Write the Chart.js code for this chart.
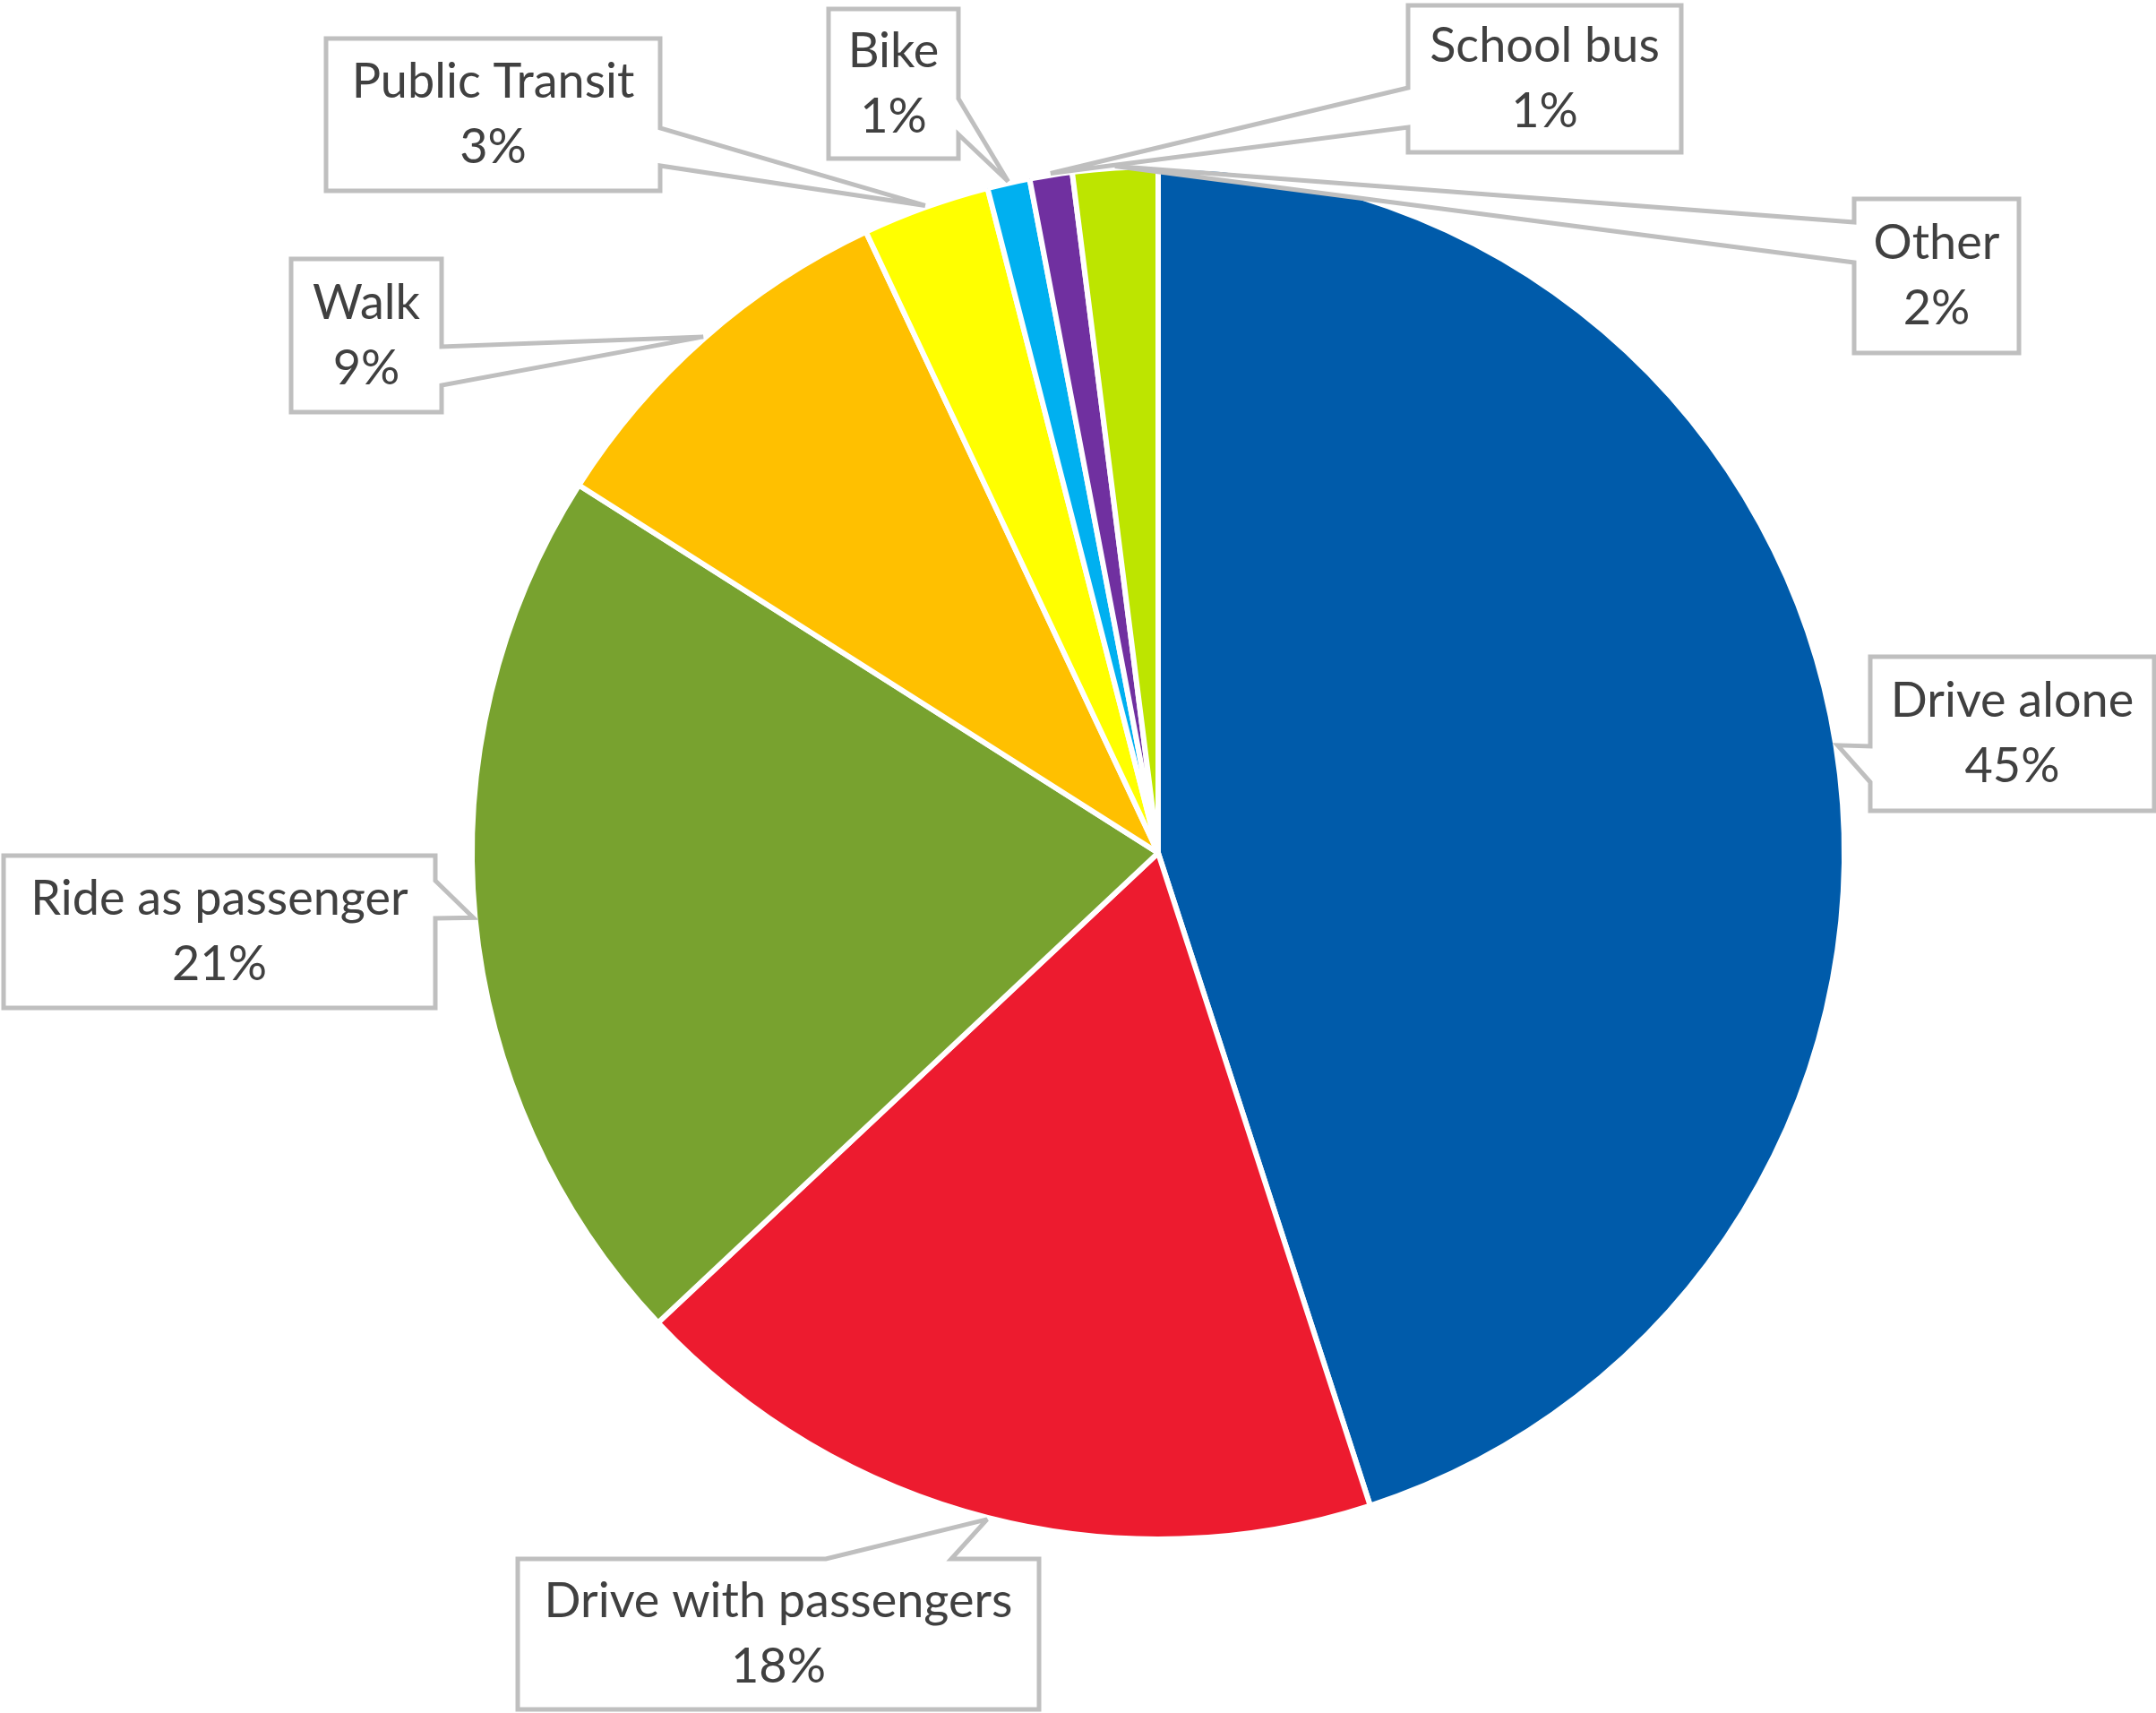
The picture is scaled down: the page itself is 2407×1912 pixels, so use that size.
<!DOCTYPE html>
<html>
<head>
<meta charset="utf-8">
<script src="https://cdn.jsdelivr.net/npm/chart.js@4/dist/chart.umd.min.js"></script>
<style>
  html, body { margin: 0; padding: 0; background: #fff; }
  #wrap { position: relative; width: 2407px; height: 1912px; }
</style>
</head>
<body>
<div id="wrap"><canvas id="chPie"></canvas></div>
<script>
// travel mode shares, clockwise from 12 o'clock
var modes = ['Drive alone', 'Drive with passengers', 'Ride as passenger', 'Walk', 'Public Transit', 'Bike', 'School bus', 'Other'];
var shares = [45, 18, 21, 9, 3, 1, 1, 2];

// slice colors
var colors = ['#005BAA', '#ED1B2F', '#78A22F', '#FFC000', '#FFFF00', '#00B0F0', '#7030A0', '#BDE500'];

// callout boxes: [left, top, width, height], side the pointer leaves from,
// and where the pointer base sits along that side
var callouts = [
    { box: [2088, 733, 317, 172], side: 'left',  base: [100, 140] },
    { box: [578, 1740, 582, 168], side: 'top',   base: [344, 484] },
    { box: [4, 955, 482, 170],    side: 'right', base: [28, 70] },
    { box: [325, 289, 168, 171],  side: 'right', base: [98, 141] },
    { box: [364, 43, 373, 170],   side: 'right', base: [100, 142] },
    { box: [925, 10, 145, 167],   side: 'right', base: [100, 140] },
    { box: [1572, 6, 305, 164],   side: 'left',  base: [92, 136] },
    { box: [2070, 222, 184, 172], side: 'left',  base: [26, 71] }
];

var calloutPlugin = {
    id: 'callouts',
    afterDatasetsDraw: function(chart) {
        var ctx = chart.ctx;
        var meta = chart.getDatasetMeta(0);
        var total = shares.reduce(function(a, b) { return a + b; }, 0);

        ctx.save();
        meta.data.forEach(function(arc, i) {
            var c = callouts[i];
            var p = arc.getProps(['x', 'y', 'startAngle', 'endAngle', 'outerRadius'], true);
            var mid = (p.startAngle + p.endAngle) / 2;
            var r = p.outerRadius + 2;
            var tx = p.x + Math.cos(mid) * r;
            var ty = p.y + Math.sin(mid) * r;
            var x = c.box[0], y = c.box[1], w = c.box[2], h = c.box[3];

            // box outline with the wedge pointer
            ctx.beginPath();
            ctx.moveTo(x, y);
            if (c.side === 'top') {
                ctx.lineTo(x + c.base[0], y);
                ctx.lineTo(tx, ty);
                ctx.lineTo(x + c.base[1], y);
            }
            ctx.lineTo(x + w, y);
            if (c.side === 'right') {
                ctx.lineTo(x + w, y + c.base[0]);
                ctx.lineTo(tx, ty);
                ctx.lineTo(x + w, y + c.base[1]);
            }
            ctx.lineTo(x + w, y + h);
            ctx.lineTo(x, y + h);
            if (c.side === 'left') {
                ctx.lineTo(x, y + c.base[1]);
                ctx.lineTo(tx, ty);
                ctx.lineTo(x, y + c.base[0]);
            }
            ctx.closePath();
            ctx.fillStyle = '#ffffff';
            ctx.fill();
            ctx.lineWidth = 5;
            ctx.lineJoin = 'miter';
            ctx.miterLimit = 3;
            ctx.strokeStyle = '#bfbfbf';
            ctx.stroke();

            // label text
            var cx = x + w / 2, cy = y + h / 2;
            ctx.fillStyle = '#404040';
            ctx.font = '54px Lato';
            ctx.textAlign = 'center';
            ctx.textBaseline = 'middle';
            ctx.fillText(modes[i], cx, cy - 36);
            ctx.fillText(Math.round(shares[i] / total * 100) + '%', cx, cy + 37);
        });
        ctx.restore();
    }
};

var chPie = document.getElementById('chPie');
new Chart(chPie, {
    type: 'pie',
    data: {
        labels: modes,
        datasets: [{
            data: shares,
            backgroundColor: colors,
            borderColor: '#ffffff',
            borderWidth: 6
        }]
    },
    options: {
        responsive: true,
        maintainAspectRatio: false,
        animation: false,
        layout: { padding: { top: 183, bottom: 191, left: 524, right: 345 } },
        plugins: {
            legend: { display: false },
            tooltip: { enabled: false }
        }
    },
    plugins: [calloutPlugin]
});
</script>
</body>
</html>
